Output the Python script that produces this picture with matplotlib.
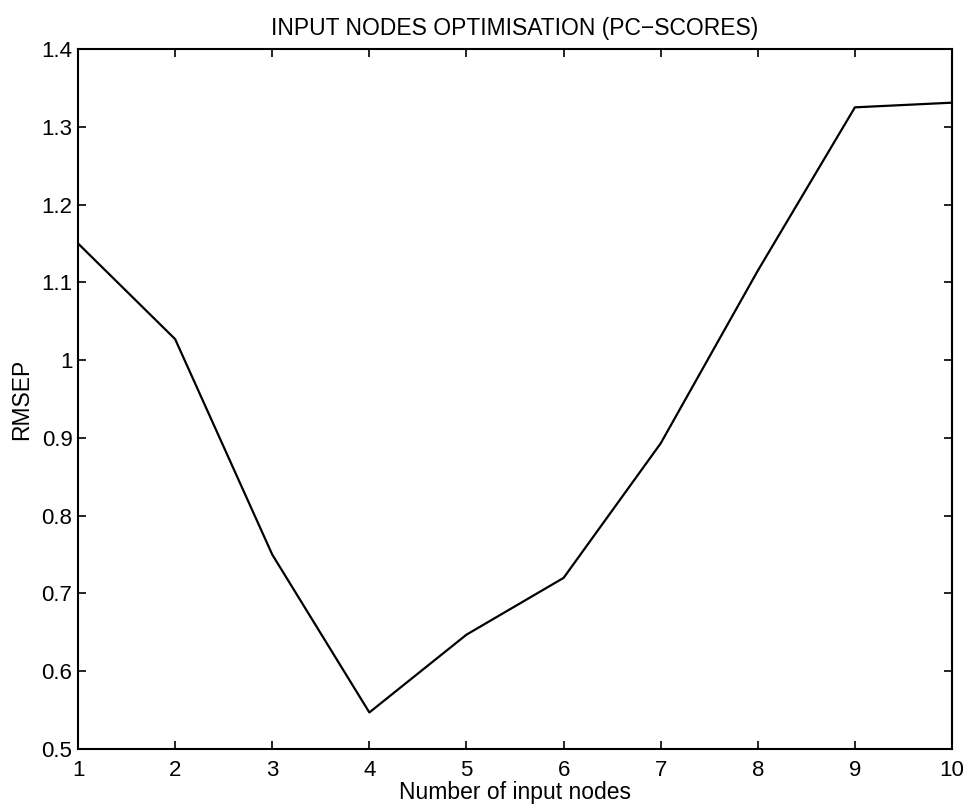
import matplotlib
matplotlib.use("Agg")
import matplotlib.pyplot as plt

nodes = [1, 2, 3, 4, 5, 6, 7, 8, 9, 10]
rmsep = [1.150, 1.027, 0.750, 0.547, 0.647, 0.720, 0.893, 1.115, 1.325, 1.331]
xticks = [1, 2, 3, 4, 5, 6, 7, 8, 9, 10]
yticks = [0.5, 0.6, 0.7, 0.8, 0.9, 1.0, 1.1, 1.2, 1.3, 1.4]
ytick_labels = ["0.5", "0.6", "0.7", "0.8", "0.9", "1", "1.1", "1.2", "1.3", "1.4"]

plt.rcParams['font.family'] = ['Liberation Sans', 'DejaVu Sans']

fig = plt.figure(figsize=(9.68, 8.10), dpi=100)
ax = fig.add_axes([0.0806, 0.0753, 0.9029, 0.8642])
ax.plot(nodes, rmsep, color='black', linewidth=1.6)
ax.set_xlim(1, 10)
ax.set_ylim(0.5, 1.4)
ax.set_xticks(xticks)
ax.set_yticks(yticks)
ax.set_yticklabels(ytick_labels)
ax.tick_params(direction='in', length=6, width=1.2, labelsize=16, top=True, right=True)
ax.tick_params(axis='x', pad=8)
ax.tick_params(axis='y', pad=4)
for s in ax.spines.values():
    s.set_linewidth(1.5)
ax.set_xlabel("Number of input nodes", fontsize=16.5, labelpad=0)
ax.set_ylabel("RMSEP", fontsize=16.5, labelpad=6)
ax.set_title("INPUT NODES OPTIMISATION (PC\u2212SCORES)", fontsize=16.5, pad=10)
fig.savefig("out.png", dpi=100)
